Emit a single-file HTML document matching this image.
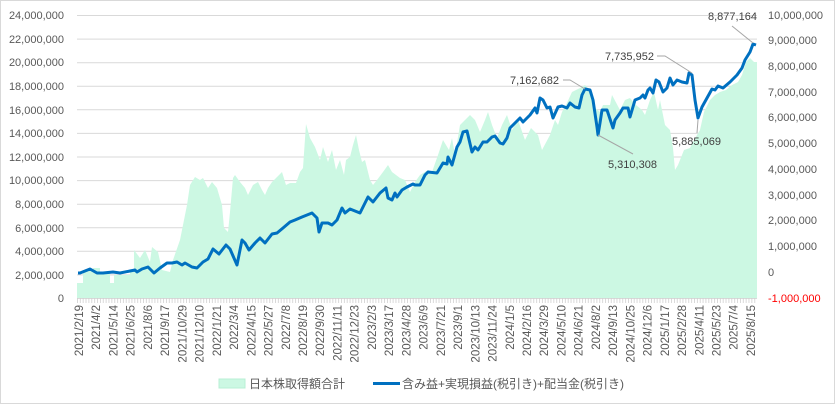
<!DOCTYPE html>
<html><head><meta charset="utf-8"><style>
html,body{margin:0;padding:0;background:#fff;}
svg{display:block;font-family:"Liberation Sans","Noto Sans CJK JP",sans-serif;}
</style></head><body>
<svg width="835" height="404" viewBox="0 0 835 404" xmlns="http://www.w3.org/2000/svg">
<defs><pattern id="tk" x="77" y="298" width="2.87" height="5" patternUnits="userSpaceOnUse"><rect x="0" y="0" width="0.8" height="5" fill="#d0d0d0"/></pattern></defs>
<rect x="0.5" y="0.5" width="834" height="403" fill="#fff" stroke="#d9d9d9"/>
<g stroke="#d9d9d9" stroke-width="1">
<line x1="77" x2="757" y1="15.5" y2="15.5"/><line x1="77" x2="757" y1="39.1" y2="39.1"/><line x1="77" x2="757" y1="62.7" y2="62.7"/><line x1="77" x2="757" y1="86.2" y2="86.2"/><line x1="77" x2="757" y1="109.8" y2="109.8"/><line x1="77" x2="757" y1="133.4" y2="133.4"/><line x1="77" x2="757" y1="157" y2="157"/><line x1="77" x2="757" y1="180.6" y2="180.6"/><line x1="77" x2="757" y1="204.2" y2="204.2"/><line x1="77" x2="757" y1="227.7" y2="227.7"/><line x1="77" x2="757" y1="251.3" y2="251.3"/><line x1="77" x2="757" y1="274.9" y2="274.9"/>
</g>
<polygon fill="#ccf8e3" points="77,298 77,283 83,283 83,270 93,270 93,268 100,268 100,272 110,272 110,283 114,283 114,275 130,275 130,270 134,270 134,250 140,258 145,250 150,262 152,247 158,252 162,270 170,272 173,260 180,240 183,225 187,205 190,185 195,177 200,180 203,178 208,188 212,182 217,188 222,205 224,228 228,232 230,212 233,178 235,175 240,182 245,188 248,195 253,185 258,182 262,190 265,195 268,188 272,182 277,177 282,172 286,185 290,183 296,183 300,172 303,168 306,124 310,138 315,147 320,160 323,147 328,162 332,150 336,170 340,160 344,175 346,160 350,157 353,145 356,135 359,150 362,162 365,160 370,180 373,185 377,180 383,172 388,165 392,172 396,175 400,178 405,180 410,192 415,182 420,175 428,170 432,172 438,155 443,140 449,150 452,138 455,155 460,125 465,120 470,115 475,120 480,132 485,120 488,112 492,125 497,138 502,125 507,115 512,130 518,120 525,140 531,128 538,135 542,150 550,135 555,120 558,125 562,112 566,105 572,92 576,90 580,88 585,85 590,90 595,108 600,112 603,105 610,105 612,95 620,110 625,100 630,98 636,105 642,110 645,115 650,100 654,92 658,110 660,100 665,125 670,130 673,148 675,170 678,165 680,160 684,150 690,148 694,140 700,130 704,112 710,100 715,95 720,92 726,90 732,85 738,82 742,75 746,62 750,58 754,62 757,62 757,298"/>
<line x1="77" x2="757" y1="298.5" y2="298.5" stroke="#d9d9d9"/>
<rect x="77" y="298" width="680" height="5" fill="url(#tk)"/>
<polyline fill="none" stroke="#0070c0" stroke-width="3" stroke-linejoin="round" points="78,273 80,273 90,269 97,273 103,273 113,272 120,273 130,271 135,270 137,272 142,269 148,267 154,273 160,268 167,263 172,263 177,262 182,265 185,263 192,267 197,268 203,262 208,259 213,249 219,254 226,245 230,249 237,265 242,240 245,243 249,250 255,243 260,238 265,243 272,234 277,233 283,228 290,222 295,220 302,217 312,213 317,218 319,232 322,223 328,223 332,225 337,220 342,208 345,213 350,209 360,213 368,197 373,202 380,193 386,188 388,198 392,200 395,193 397,197 402,190 407,187 413,184 415,185 420,185 425,175 428,172 437,173 443,163 447,164 448,157 452,165 457,147 460,142 463,132 467,131 472,152 475,147 478,150 483,142 487,142 492,137 495,136 500,143 503,144 507,138 510,128 515,123 520,118 523,122 530,115 535,108 537,113 540,98 543,100 547,108 550,107 553,118 558,107 562,106 567,108 570,103 575,107 579,108 582,95 585,89 590,90 593,100 597,127 598,135 600,123 602,110 607,110 613,128 615,120 620,113 623,108 628,108 630,117 635,100 640,98 643,95 645,98 648,90 650,88 653,93 656,80 659,82 663,92 667,88 670,78 673,85 677,80 682,82 687,83 689,73 692,75 695,100 698,118 702,107 707,98 712,89 715,90 718,86 723,88 730,82 737,75 742,68 745,60 750,52 753,44 756,45"/>
<g stroke="#a6a6a6" stroke-width="1" fill="none">
<polyline points="732,26 753,43"/><polyline points="657,56 665,56 692,73"/><polyline points="563,80 570,80 585,89"/><polyline points="633,154 598,135"/><polyline points="697,133 698,120"/>
</g>
<g font-size="11" fill="#404040">
<text x="708" y="20">8,877,164</text>
<text x="605" y="60">7,735,952</text>
<text x="510" y="84">7,162,682</text>
<text x="608" y="168">5,310,308</text>
<text x="672" y="145">5,885,069</text>
</g>
<g font-size="11" fill="#595959" text-anchor="end">
<text x="64" y="19">24,000,000</text><text x="64" y="43">22,000,000</text><text x="64" y="66">20,000,000</text><text x="64" y="90">18,000,000</text><text x="64" y="114">16,000,000</text><text x="64" y="137">14,000,000</text><text x="64" y="161">12,000,000</text><text x="64" y="184">10,000,000</text><text x="64" y="208">8,000,000</text><text x="64" y="232">6,000,000</text><text x="64" y="255">4,000,000</text><text x="64" y="279">2,000,000</text><text x="64" y="302">0</text>
</g>
<g font-size="11" fill="#595959">
<text x="768" y="19">10,000,000</text><text x="768" y="44">9,000,000</text><text x="768" y="70">8,000,000</text><text x="768" y="96">7,000,000</text><text x="768" y="121">6,000,000</text><text x="768" y="147">5,000,000</text><text x="768" y="173">4,000,000</text><text x="768" y="199">3,000,000</text><text x="768" y="224">2,000,000</text><text x="768" y="250">1,000,000</text><text x="768" y="276">0</text><text x="768" y="302" fill="#ff0000">-1,000,000</text>
</g>
<g font-size="11.5" fill="#595959" text-anchor="end">
<text transform="translate(83,305) rotate(-90)">2021/2/19</text>
<text transform="translate(100.2,305) rotate(-90)">2021/4/2</text>
<text transform="translate(117.5,305) rotate(-90)">2021/5/14</text>
<text transform="translate(134.7,305) rotate(-90)">2021/6/25</text>
<text transform="translate(151.9,305) rotate(-90)">2021/8/6</text>
<text transform="translate(169.2,305) rotate(-90)">2021/9/17</text>
<text transform="translate(186.4,305) rotate(-90)">2021/10/29</text>
<text transform="translate(203.6,305) rotate(-90)">2021/12/10</text>
<text transform="translate(220.8,305) rotate(-90)">2022/1/21</text>
<text transform="translate(238.1,305) rotate(-90)">2022/3/4</text>
<text transform="translate(255.3,305) rotate(-90)">2022/4/15</text>
<text transform="translate(272.5,305) rotate(-90)">2022/5/27</text>
<text transform="translate(289.8,305) rotate(-90)">2022/7/8</text>
<text transform="translate(307,305) rotate(-90)">2022/8/19</text>
<text transform="translate(324.2,305) rotate(-90)">2022/9/30</text>
<text transform="translate(341.5,305) rotate(-90)">2022/11/11</text>
<text transform="translate(358.7,305) rotate(-90)">2022/12/23</text>
<text transform="translate(375.9,305) rotate(-90)">2023/2/3</text>
<text transform="translate(393.1,305) rotate(-90)">2023/3/17</text>
<text transform="translate(410.4,305) rotate(-90)">2023/4/28</text>
<text transform="translate(427.6,305) rotate(-90)">2023/6/9</text>
<text transform="translate(444.8,305) rotate(-90)">2023/7/21</text>
<text transform="translate(462.1,305) rotate(-90)">2023/9/1</text>
<text transform="translate(479.3,305) rotate(-90)">2023/10/13</text>
<text transform="translate(496.5,305) rotate(-90)">2023/11/24</text>
<text transform="translate(513.8,305) rotate(-90)">2024/1/5</text>
<text transform="translate(531,305) rotate(-90)">2024/2/16</text>
<text transform="translate(548.2,305) rotate(-90)">2024/3/29</text>
<text transform="translate(565.4,305) rotate(-90)">2024/5/10</text>
<text transform="translate(582.7,305) rotate(-90)">2024/6/21</text>
<text transform="translate(599.9,305) rotate(-90)">2024/8/2</text>
<text transform="translate(617.1,305) rotate(-90)">2024/9/13</text>
<text transform="translate(634.4,305) rotate(-90)">2024/10/25</text>
<text transform="translate(651.6,305) rotate(-90)">2024/12/6</text>
<text transform="translate(668.8,305) rotate(-90)">2025/1/17</text>
<text transform="translate(686.1,305) rotate(-90)">2025/2/28</text>
<text transform="translate(703.3,305) rotate(-90)">2025/4/11</text>
<text transform="translate(720.5,305) rotate(-90)">2025/5/23</text>
<text transform="translate(737.7,305) rotate(-90)">2025/7/4</text>
<text transform="translate(755,305) rotate(-90)">2025/8/15</text>
</g>
<rect x="219" y="379" width="26" height="9" fill="#ccf8e3" stroke="#b8efd4"/>
<text x="249" y="388" font-size="12" fill="#595959">日本株取得額合計</text>
<line x1="373" x2="400" y1="383.5" y2="383.5" stroke="#0070c0" stroke-width="3"/>
<text x="402" y="388" font-size="12" fill="#595959">含み益+実現損益(税引き)+配当金(税引き)</text>
</svg>
</body></html>
